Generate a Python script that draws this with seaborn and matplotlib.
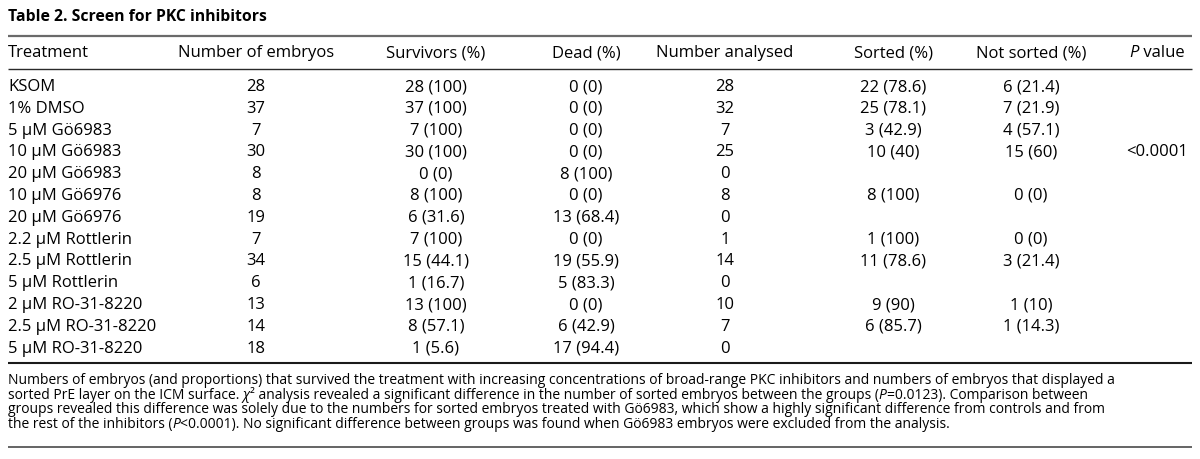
import matplotlib
matplotlib.use("Agg")
import matplotlib.pyplot as plt
import seaborn as sns
import pandas as pd

# ---------------- data ----------------
title = "Table 2. Screen for PKC inhibitors"
headers = ["Treatment", "Number of embryos", "Survivors (%)", "Dead (%)",
           "Number analysed", "Sorted (%)", "Not sorted (%)", "*P* value"]
treatments = ["KSOM", "1% DMSO", "5 μM Gö6983", "10 μM Gö6983", "20 μM Gö6983",
              "10 μM Gö6976", "20 μM Gö6976", "2.2 μM Rottlerin", "2.5 μM Rottlerin",
              "5 μM Rottlerin", "2 μM RO-31-8220", "2.5 μM RO-31-8220", "5 μM RO-31-8220"]
n_embryos = [28, 37, 7, 30, 8, 8, 19, 7, 34, 6, 13, 14, 18]
surv_n = [28, 37, 7, 30, 0, 8, 6, 7, 15, 1, 13, 8, 1]
surv_pct = [100, 100, 100, 100, 0, 100, 31.6, 100, 44.1, 16.7, 100, 57.1, 5.6]
dead_n = [0, 0, 0, 0, 8, 0, 13, 0, 19, 5, 0, 6, 17]
dead_pct = [0, 0, 0, 0, 100, 0, 68.4, 0, 55.9, 83.3, 0, 42.9, 94.4]
analysed = [28, 32, 7, 25, 0, 8, 0, 1, 14, 0, 10, 7, 0]
sorted_n = [22, 25, 3, 10, None, 8, None, 1, 11, None, 9, 6, None]
sorted_pct = [78.6, 78.1, 42.9, 40, None, 100, None, 100, 78.6, None, 90, 85.7, None]
notsorted_n = [6, 7, 4, 15, None, 0, None, 0, 3, None, 1, 1, None]
notsorted_pct = [21.4, 21.9, 57.1, 60, None, 0, None, 0, 21.4, None, 10, 14.3, None]
p_values = ["", "", "", "<0.0001", "", "", "", "", "", "", "", "", ""]
# *...* marks italic runs
footnote = [
    "Numbers of embryos (and proportions) that survived the treatment with increasing concentrations of broad-range PKC inhibitors and numbers of embryos that displayed a",
    "sorted PrE layer on the ICM surface. *χ*² analysis revealed a significant difference in the number of sorted embryos between the groups (*P*=0.0123). Comparison between",
    "groups revealed this difference was solely due to the numbers for sorted embryos treated with Gö6983, which show a highly significant difference from controls and from",
    "the rest of the inhibitors (*P*<0.0001). No significant difference between groups was found when Gö6983 embryos were excluded from the analysis.",
]


def fmt(n, p):
    if n is None:
        return ""
    return f"{n} ({p:g})"


table = pd.DataFrame({
    "Treatment": treatments,
    "Number of embryos": [str(v) for v in n_embryos],
    "Survivors (%)": [fmt(n, p) for n, p in zip(surv_n, surv_pct)],
    "Dead (%)": [fmt(n, p) for n, p in zip(dead_n, dead_pct)],
    "Number analysed": [str(v) for v in analysed],
    "Sorted (%)": [fmt(n, p) for n, p in zip(sorted_n, sorted_pct)],
    "Not sorted (%)": [fmt(n, p) for n, p in zip(notsorted_n, notsorted_pct)],
    "P value": p_values,
})

# ---------------- style ----------------
sns.set_theme(style="white")
FONT = "Open Sans"
plt.rcParams["font.family"] = [FONT, "DejaVu Sans"]

TXT = "#000000"
W, H = 1200, 459
fig = plt.figure(figsize=(W / 100, H / 100), dpi=100)
ax = fig.add_axes([0, 0, 1, 1])
ax.set_xlim(0, W)
ax.set_ylim(H, 0)
ax.axis("off")
renderer = fig.canvas.get_renderer()


def draw_runs(x, y, s, fs, ha="left"):
    """Draw text with *italic* runs, left- or center-aligned at x (pixel units)."""
    parts = s.split("*")
    runs = [(p, "italic" if k % 2 else "normal") for k, p in enumerate(parts) if p]
    arts = []
    cx = 0.0
    for txt, style in runs:
        t = ax.text(x, y, txt, fontsize=fs, color=TXT, va="baseline", ha="left",
                    fontstyle=style)
        w = t.get_window_extent(renderer).width
        arts.append((t, cx))
        cx += w
    shift = -cx / 2 if ha == "center" else 0.0
    for t, off in arts:
        t.set_x(x + off + shift)


left, right = 8, 1192
col_x = [8, 256, 436, 586, 725, 893, 1031, 1157]
col_ha = ["left"] + ["center"] * 7

# title
ax.text(left, 21, title, fontsize=11.3, fontweight="bold", color=TXT, va="baseline", ha="left")
# rules
ax.plot([left, right], [36, 36], color="#6a6a6a", lw=1.6, solid_capstyle="butt")
ax.plot([left, right], [69, 69], color="#2a2a2a", lw=1.0, solid_capstyle="butt")
ax.plot([left, right], [363, 363], color="#1a1a1a", lw=1.5, solid_capstyle="butt")
ax.plot([left, right], [447, 447], color="#4a4a4a", lw=1.2, solid_capstyle="butt")

FS = 12
for x, ha, h in zip(col_x, col_ha, headers):
    draw_runs(x, 57, h, FS, ha=ha)

y0, dy = 91, 21.8
for i, row in enumerate(table.itertuples(index=False)):
    y = y0 + i * dy
    for x, ha, val in zip(col_x, col_ha, row):
        if val:
            ax.text(x, y, val, fontsize=FS, color=TXT, va="baseline", ha=ha)

fy0, fdy = 384, 14.7
for j, line in enumerate(footnote):
    draw_runs(left, fy0 + j * fdy, line, 10.0)

fig.savefig("out.png", dpi=100, facecolor="white")
